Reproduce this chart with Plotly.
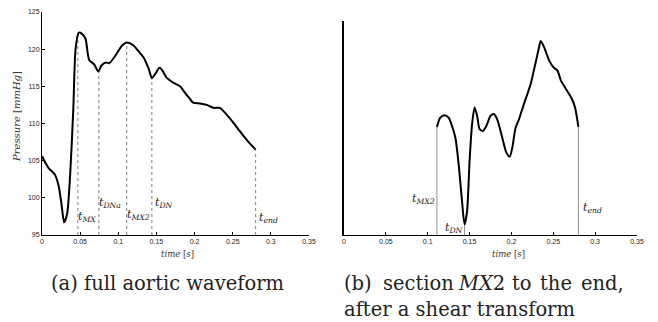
import plotly.graph_objects as go

# ---- data: (a) full aortic waveform ----
t_full = [0.0, 0.0087, 0.017, 0.022, 0.026, 0.029, 0.033, 0.037, 0.041, 0.044, 0.048, 0.052,
          0.057, 0.060, 0.062, 0.068, 0.074, 0.078, 0.084, 0.088, 0.096, 0.105, 0.111, 0.120,
          0.126, 0.133, 0.140, 0.144, 0.148, 0.154, 0.158, 0.163, 0.172, 0.181, 0.187, 0.194,
          0.198, 0.207, 0.216, 0.225, 0.233, 0.242, 0.251, 0.259, 0.270, 0.280]
p_full = [105.6, 104.0, 103.1, 101.5, 98.8, 96.7, 97.9, 103.3, 111.9, 120.0, 122.2, 122.1,
          121.4, 119.4, 118.5, 118.0, 117.0, 117.8, 118.2, 118.1, 119.1, 120.5, 120.9, 120.5,
          119.8, 118.9, 117.3, 116.1, 116.6, 117.5, 117.1, 116.2, 115.5, 115.0, 114.2, 113.3,
          112.8, 112.7, 112.5, 112.1, 112.1, 111.2, 110.1, 109.0, 107.6, 106.5]

mark_a_t = [0.047, 0.0745, 0.111, 0.144, 0.280]
mark_a_p = [122.1, 117.0, 120.9, 116.1, 106.5]
mark_a_lbl = ["MX", "DNa", "MX2", "DN", "end"]

# ---- data: (b) section MX2 to end, sheared ----
t_sec = [0.111, 0.115, 0.120, 0.125, 0.129, 0.133, 0.137, 0.141, 0.144, 0.147, 0.150, 0.153,
         0.156, 0.159, 0.162, 0.166, 0.170, 0.175, 0.179, 0.183, 0.189, 0.194, 0.198, 0.201,
         0.205, 0.209, 0.215, 0.223, 0.229, 0.233, 0.235, 0.239, 0.245, 0.250, 0.255, 0.259,
         0.265, 0.272, 0.276, 0.280]
v_sec = [0.0, 0.21, 0.265, 0.21, 0.02, -0.24, -0.85, -1.68, -2.20, -1.91, -0.77, 0.06,
         0.44, 0.25, -0.05, -0.09, 0.02, 0.25, 0.29, 0.17, -0.24, -0.58, -0.67, -0.47,
         -0.02, 0.17, 0.52, 0.97, 1.46, 1.80, 1.94, 1.80, 1.50, 1.35, 1.27, 1.05,
         0.86, 0.64, 0.44, 0.0]

mark_b_t = [0.111, 0.144, 0.280]
mark_b_v = [0.0, -2.20, 0.0]
mark_b_lbl = ["MX2", "DN", "end"]

x_ticks = [0, 0.05, 0.1, 0.15, 0.2, 0.25, 0.3, 0.35]
x_tick_text = ["0", "0.05", "0.1", "0.15", "0.2", "0.25", "0.3", "0.35"]
y_ticks = [95, 100, 105, 110, 115, 120, 125]

caption_a = "(a) full aortic waveform"
caption_b1_words = ["(b)", "section", "<i>MX</i>2", "to", "the", "end,"]
caption_b2 = "after a shear transform"

YA_MIN, YA_MAX = 95, 125
YB_MIN, YB_MAX = -2.44, 2.39

# page body has an 8px margin: figure occupies window px 8..658, 8..322
OFF = 8
W, H = 650, 314
def px(x): return (x - OFF) / W
def py(y): return 1 - (y - OFF) / H

fig = go.Figure()

# marker lines (a)
mx, my = [], []
for t, p in zip(mark_a_t, mark_a_p):
    mx += [t, t, None]; my += [YA_MIN, p, None]
fig.add_trace(go.Scatter(x=mx, y=my, mode="lines", xaxis="x", yaxis="y",
                         line=dict(color="#8a8a8a", width=1.1, dash="dot"), hoverinfo="skip"))
fig.add_trace(go.Scatter(x=t_full, y=p_full, mode="lines", xaxis="x", yaxis="y",
                         line=dict(color="black", width=2, shape="spline", smoothing=0.7)))

# marker lines (b)
mx, my = [], []
for t, v in zip(mark_b_t, mark_b_v):
    mx += [t, t, None]; my += [YB_MIN, v, None]
fig.add_trace(go.Scatter(x=mx, y=my, mode="lines", xaxis="x2", yaxis="y2",
                         line=dict(color="#9a9a9a", width=1.1), hoverinfo="skip"))
fig.add_trace(go.Scatter(x=t_sec, y=v_sec, mode="lines", xaxis="x2", yaxis="y2",
                         line=dict(color="black", width=2, shape="spline", smoothing=0.7)))

tickfont = dict(family="Liberation Sans", size=7, color="#222")
common_x = dict(range=[0, 0.35], tickvals=x_ticks, ticktext=x_tick_text, ticks="inside",
                ticklen=3, tickcolor="black", showline=True, linecolor="black", linewidth=1,
                showgrid=False, zeroline=False, tickfont=tickfont, fixedrange=True,
                automargin=False)

fig.update_layout(
    template="none",
    width=W, height=H, margin=dict(l=0, r=0, t=0, b=0, autoexpand=False),
    paper_bgcolor="white", plot_bgcolor="white", showlegend=False,
    xaxis=dict(domain=[px(42), px(309)], anchor="y", **common_x),
    yaxis=dict(domain=[py(235), py(12)], anchor="x", range=[YA_MIN, YA_MAX], tickvals=y_ticks,
               ticks="inside", ticklen=3, tickcolor="black", showline=True, linecolor="black",
               linewidth=1, showgrid=False, zeroline=False, tickfont=tickfont, automargin=False),
    xaxis2=dict(domain=[px(344), px(637)], anchor="y2", **common_x),
    yaxis2=dict(domain=[py(235), py(21)], anchor="x2", range=[YB_MIN, YB_MAX],
                showticklabels=False, ticks="", showline=True, linecolor="black", linewidth=1.5,
                showgrid=False, zeroline=False, automargin=False),
)

serif = "DejaVu Serif"
ann = []
# marker labels (a)
lbl_pos_a = [(0.0446, 97.4), (0.0725, 99.3), (0.1088, 97.7), (0.145, 99.3), (0.2822, 97.3)]
for (lx, ly), s in zip(lbl_pos_a, mark_a_lbl):
    ann.append(dict(x=lx, y=ly, xref="x", yref="y", xanchor="left", yanchor="middle",
                    text=f"<i>t</i><sub><i>{s}</i></sub>", showarrow=False,
                    font=dict(family=serif, size=11, color="#222")))
lbl_pos_b = [(0.1107, -1.63, "right"), (0.1186, -2.28, "left"), (0.2827, -1.83, "left")]
for (lx, ly, xa), s in zip(lbl_pos_b, mark_b_lbl):
    ann.append(dict(x=lx, y=ly, xref="x2", yref="y2", xanchor=xa, yanchor="middle",
                    text=f"<i>t</i><sub><i>{s}</i></sub>", showarrow=False,
                    font=dict(family=serif, size=11, color="#222")))

# axis titles
ann.append(dict(x=px(177), y=py(254), xref="paper", yref="paper", xanchor="center",
                yanchor="middle", text="<i>time</i> [<i>s</i>]",
                showarrow=False, font=dict(family=serif, size=8.5, color="#333")))
ann.append(dict(x=px(508), y=py(254), xref="paper", yref="paper", xanchor="center",
                yanchor="middle", text="<i>time</i> [<i>s</i>]",
                showarrow=False, font=dict(family=serif, size=8.5, color="#333")))
ann.append(dict(x=px(16), y=py(117), xref="paper", yref="paper", xanchor="center",
                yanchor="middle", textangle=-90,
                text="<i>Pressure</i> [<i>mmHg</i>]", showarrow=False,
                font=dict(family=serif, size=10, color="#333")))

# captions
capfont = dict(family=serif, size=19.5, color="#222")
ann.append(dict(x=px(49), y=py(283), xref="paper", yref="paper", xanchor="left",
                yanchor="middle", text=caption_a, showarrow=False, font=capfont))
word_x = [342, 381, 456, 510, 538, 579]
for wx, w in zip(word_x, caption_b1_words):
    ann.append(dict(x=px(wx), y=py(283), xref="paper", yref="paper", xanchor="left",
                    yanchor="middle", text=w, showarrow=False, font=capfont))
ann.append(dict(x=px(342), y=py(309), xref="paper", yref="paper", xanchor="left",
                yanchor="middle", text=caption_b2, showarrow=False, font=capfont))

fig.update_layout(annotations=ann)
fig.write_html("out.html")
